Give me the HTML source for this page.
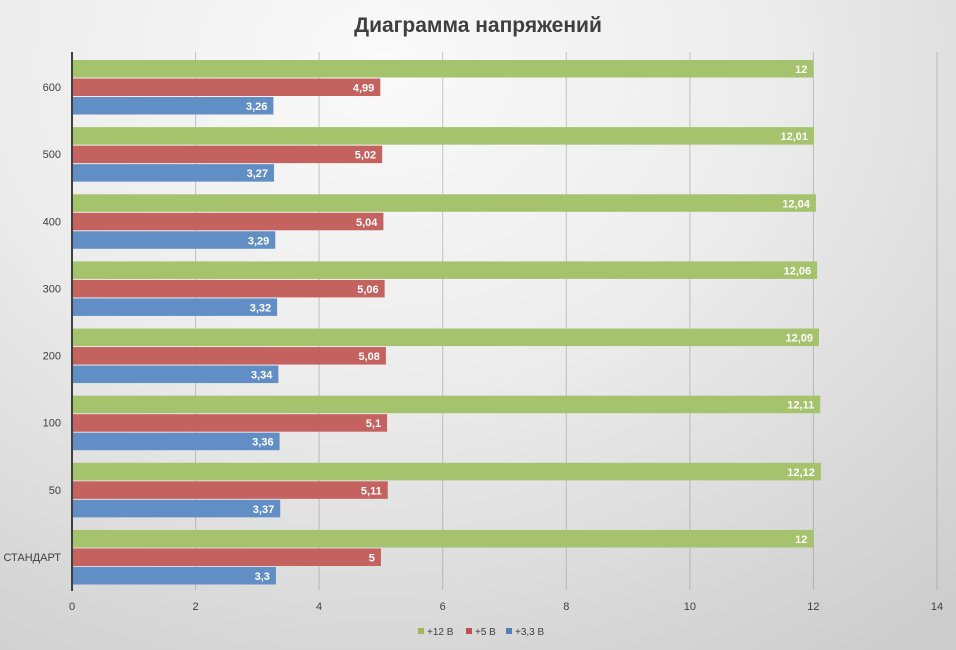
<!DOCTYPE html>
<html><head><meta charset="utf-8"><style>
html,body{margin:0;padding:0;}
body{width:956px;height:650px;overflow:hidden;background:radial-gradient(ellipse 90% 110% at 40% 10%,#fafafa 0%,#ececec 45%,#cdcdcd 100%);font-family:"Liberation Sans","DejaVu Sans",sans-serif;}
</style></head><body>
<svg width="956" height="650" xmlns="http://www.w3.org/2000/svg" style="position:absolute;left:0;top:0">
<text x="478" y="32" text-anchor="middle" font-size="21" font-weight="bold" fill="#3f3f3f" font-family="Liberation Sans, sans-serif">Диаграмма напряжений</text>
<g stroke="#888" stroke-opacity="0.45" stroke-width="1">
<line x1="195.6" y1="52" x2="195.6" y2="590"/>
<line x1="319.1" y1="52" x2="319.1" y2="590"/>
<line x1="442.7" y1="52" x2="442.7" y2="590"/>
<line x1="566.3" y1="52" x2="566.3" y2="590"/>
<line x1="689.9" y1="52" x2="689.9" y2="590"/>
<line x1="813.4" y1="52" x2="813.4" y2="590"/>
<line x1="937" y1="52" x2="937" y2="590"/>
</g>
<g id="bars" font-size="11" font-weight="bold" fill="#fff" font-family="Liberation Sans, sans-serif"></g>
<line x1="72" y1="52" x2="72" y2="591" stroke="#404040" stroke-width="2"/>
<g font-size="11" fill="#404040" text-anchor="middle">
<text x="72" y="610">0</text><text x="195.6" y="610">2</text><text x="319.1" y="610">4</text><text x="442.7" y="610">6</text><text x="566.3" y="610">8</text><text x="689.9" y="610">10</text><text x="813.4" y="610">12</text><text x="937" y="610">14</text>
</g>
<g id="cats" font-size="11" fill="#404040" text-anchor="end"></g>
<g font-size="10" fill="#404040">
<rect x="418" y="628" width="6" height="6" fill="#9bbb59"/><text x="427" y="635">+12 В</text>
<rect x="466" y="628" width="6" height="6" fill="#c0504d"/><text x="475" y="635">+5 В</text>
<rect x="506" y="628" width="6" height="6" fill="#4f81bd"/><text x="515" y="635">+3,3 В</text>
</g>
</svg>
<script>
var data=[["600",12,"12",4.99,"4,99",3.26,"3,26"],["500",12.01,"12,01",5.02,"5,02",3.27,"3,27"],["400",12.04,"12,04",5.04,"5,04",3.29,"3,29"],["300",12.06,"12,06",5.06,"5,06",3.32,"3,32"],["200",12.09,"12,09",5.08,"5,08",3.34,"3,34"],["100",12.11,"12,11",5.1,"5,1",3.36,"3,36"],["50",12.12,"12,12",5.11,"5,11",3.37,"3,37"],["СТАНДАРТ",12,"12",5,"5",3.3,"3,3"]];
var ns="http://www.w3.org/2000/svg",g=document.getElementById("bars"),c=document.getElementById("cats");
var cols=["#a5c26c","#c4625f","#618ec4"],sc=865/14;
data.forEach(function(d,i){var y0=60+i*67.14;
for(var k=0;k<3;k++){var y=y0+k*18.5,w=d[1+2*k]*sc;
var r=document.createElementNS(ns,"rect");r.setAttribute("x",72);r.setAttribute("y",y);r.setAttribute("width",w);r.setAttribute("height",17.5);r.setAttribute("fill",cols[k]);g.appendChild(r);
var t=document.createElementNS(ns,"text");t.setAttribute("x",72+w-6);t.setAttribute("y",y+13);t.setAttribute("text-anchor","end");t.textContent=d[2+2*k];g.appendChild(t);}
var l=document.createElementNS(ns,"text");l.setAttribute("x",61);l.setAttribute("y",y0+31);l.textContent=d[0];c.appendChild(l);});
</script>
</body></html>
